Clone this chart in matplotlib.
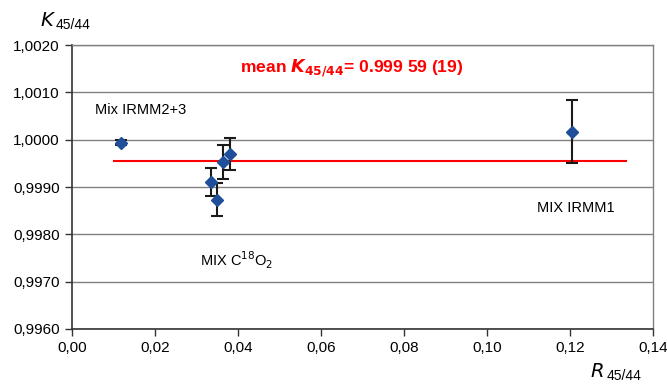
import matplotlib.pyplot as plt
from matplotlib.ticker import FixedLocator

plt.rcParams['font.family'] = ['Liberation Sans', 'DejaVu Sans']

# data
r_values = [0.0118, 0.0335, 0.0349, 0.0364, 0.0381, 0.1205]
k_values = [0.99994, 0.99911, 0.99873, 0.99953, 0.99970, 1.00017]
k_errors = [0.00006, 0.00030, 0.00035, 0.00036, 0.00033, 0.00066]

mean_k = 0.99956
mean_line_x = [0.0101, 0.1335]

x_ticks = [0.00, 0.02, 0.04, 0.06, 0.08, 0.10, 0.12, 0.14]
x_tick_labels = ["0,00", "0,02", "0,04", "0,06", "0,08", "0,10", "0,12", "0,14"]
y_ticks = [0.9960, 0.9970, 0.9980, 0.9990, 1.0000, 1.0010, 1.0020]
y_tick_labels = ["0,9960", "0,9970", "0,9980", "0,9990", "1,0000", "1,0010", "1,0020"]

fig = plt.figure(figsize=(6.67, 3.86), dpi=100)
ax = fig.add_axes([0.108, 0.148, 0.871, 0.735])

# horizontal grid
for yt in y_ticks:
    ax.axhline(yt, color="#808080", lw=1.0, zorder=0)

ax.plot(mean_line_x, [mean_k, mean_k], color="#ff0000", lw=1.5, zorder=1)

ax.errorbar(r_values, k_values, yerr=k_errors, fmt="D", color="#1f4e9a",
            markersize=6, ecolor="#1a1a1a", elinewidth=1.5, capsize=4,
            capthick=1.5, zorder=3)

ax.set_xlim(0, 0.14)
ax.set_ylim(0.9960, 1.0020)
ax.xaxis.set_major_locator(FixedLocator(x_ticks))
ax.yaxis.set_major_locator(FixedLocator(y_ticks))
ax.set_xticklabels(x_tick_labels, fontsize=11)
ax.set_yticklabels(y_tick_labels, fontsize=11)
ax.tick_params(direction="out", length=5, width=1, color="#333333", pad=4)

for s in ["left", "bottom"]:
    ax.spines[s].set_color("#333333")
    ax.spines[s].set_linewidth(1.2)
for s in ["top", "right"]:
    ax.spines[s].set_color("#808080")
    ax.spines[s].set_linewidth(1.0)

fig.text(0.060, 0.945, r"$K$", fontsize=14, ha="left", va="center")
fig.text(0.083, 0.935, "45/44", fontsize=10, ha="left", va="center")
fig.text(0.885, 0.035, r"$R$", fontsize=14, ha="left", va="center")
fig.text(0.910, 0.025, "45/44", fontsize=10, ha="left", va="center")

ax.text(0.0055, 1.00063, "Mix IRMM2+3", fontsize=10.5, va="center")
ax.text(0.1120, 0.99856, "MIX IRMM1", fontsize=10.5, va="center")
ax.text(0.0308, 0.99745, r"MIX C$^{18}$O$_2$", fontsize=10.5, va="center")
ax.text(0.0405, 1.00152, r"mean $\mathbfit{K}_{\mathbf{45/44}}$= 0.999 59 (19)",
        fontsize=12.6, color="#ff0000", fontweight="bold", va="center")

fig.savefig("out.png", dpi=100)
